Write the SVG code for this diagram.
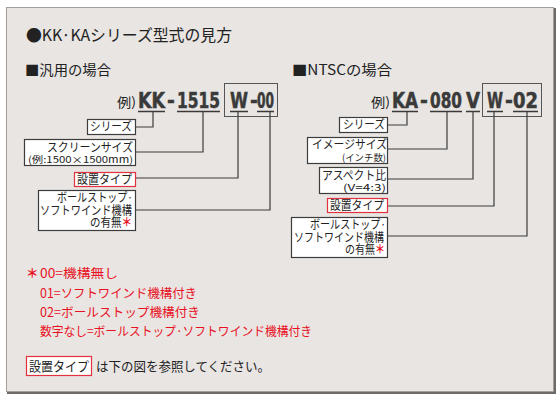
<svg xmlns="http://www.w3.org/2000/svg" width="560" height="400" viewBox="0 0 560 400">
<defs>
<style>
.jp{font-family:"Noto Sans CJK JP","Noto Sans",sans-serif;fill:#222;}
.bx{fill:#fff;stroke:#3c3c3c;stroke-width:1.2;}
.rbx{fill:#fff;stroke:#e3323f;stroke-width:1.2;}
.md{font-family:"DejaVu Sans Condensed","DejaVu Sans",sans-serif;font-weight:bold;font-stretch:condensed;font-size:21px;fill:#3a3a3a;stroke:#3a3a3a;stroke-width:0.5;}
.ul{stroke:#3a3a3a;stroke-width:1.6;fill:none;}
.cn{stroke:#3c3c3c;stroke-width:1.2;fill:none;}
.red{fill:#e8111f;}
.t12{font-size:12px;}
.t10{font-size:9.5px;}
</style>
</defs>
<rect x="0" y="0" width="560" height="400" fill="#fff"/>
<rect x="6.5" y="7.5" width="547" height="384" fill="#e8e5e2" stroke="#a39e9a" stroke-width="1"/>
<path d="M555,8 V393 H7" fill="none" stroke="#6f6a67" stroke-width="2"/>

<g id="title">
<text class="jp" x="26" y="41" font-size="16" textLength="206" lengthAdjust="spacingAndGlyphs">●KK·KAシリーズ型式の見方</text>
<text class="jp" x="25" y="75" font-size="14" textLength="86" lengthAdjust="spacingAndGlyphs">■汎用の場合</text>
<text class="jp" x="292" y="75" font-size="14" textLength="100" lengthAdjust="spacingAndGlyphs">■NTSCの場合</text>
</g>

<g id="model-left">
<text class="jp" x="117" y="107" font-size="13" textLength="19" lengthAdjust="spacingAndGlyphs" fill="#333">例)</text>
<text class="md" y="108"><tspan x="138" textLength="27" lengthAdjust="spacingAndGlyphs">KK</tspan><tspan x="167">-</tspan><tspan x="177" textLength="43" lengthAdjust="spacingAndGlyphs">1515</tspan><tspan x="230" textLength="18" lengthAdjust="spacingAndGlyphs">W</tspan><tspan x="250">-</tspan><tspan x="257" textLength="17" lengthAdjust="spacingAndGlyphs">00</tspan></text>
<path class="ul" d="M138,111.5 H165 M177,111.5 H220 M230,111.5 H248 M257,111.5 H274"/>
<rect x="224.5" y="83.5" width="53" height="33" fill="none" stroke="#555" stroke-width="1"/>
</g>

<g id="model-right">
<text class="jp" x="371" y="107" font-size="13" textLength="19" lengthAdjust="spacingAndGlyphs" fill="#333">例)</text>
<text class="md" y="108"><tspan x="392" textLength="26" lengthAdjust="spacingAndGlyphs">KA</tspan><tspan x="420">-</tspan><tspan x="430" textLength="32" lengthAdjust="spacingAndGlyphs">080</tspan><tspan x="466" textLength="14" lengthAdjust="spacingAndGlyphs">V</tspan><tspan x="487" textLength="16" lengthAdjust="spacingAndGlyphs">W</tspan><tspan x="505">-</tspan><tspan x="513" textLength="25" lengthAdjust="spacingAndGlyphs">02</tspan></text>
<path class="ul" d="M392,111.5 H418 M430,111.5 H462 M466,111.5 H480 M487,111.5 H503 M513,111.5 H538"/>
<rect x="482.5" y="83.5" width="59" height="33" fill="none" stroke="#555" stroke-width="1"/>
</g>

<g id="connectors">
<path class="cn" d="M153,112 V127 H136"/>
<path class="cn" d="M203,112 V152 H136"/>
<path class="cn" d="M238,112 V178 H136"/>
<path class="cn" d="M270,112 V210 H136"/>
<path class="cn" d="M407,112 V125 H388"/>
<path class="cn" d="M447,112 V149 H388"/>
<path class="cn" d="M473,112 V179 H388"/>
<path class="cn" d="M494,112 V206 H388"/>
<path class="cn" d="M527,112 V236 H388"/>
</g>

<g id="l-series">
<rect class="bx" x="87.5" y="119.5" width="48" height="15"/>
<text class="jp t12" x="90" y="131" textLength="42" lengthAdjust="spacingAndGlyphs">シリーズ</text>
</g>
<g id="l-screen">
<rect class="bx" x="24.5" y="139.5" width="111" height="26"/>
<text class="jp t12" x="47" y="151.5" textLength="86" lengthAdjust="spacingAndGlyphs">スクリーンサイズ</text>
<text class="jp t10" x="28" y="162.5" textLength="105" lengthAdjust="spacingAndGlyphs">(例:1500×1500mm)</text>
</g>
<g id="l-type">
<rect class="rbx" x="74.5" y="172.5" width="61" height="14"/>
<text class="jp t12" x="77" y="183.5" textLength="55" lengthAdjust="spacingAndGlyphs">設置タイプ</text>
</g>
<g id="l-stop">
<rect class="bx" x="38.5" y="190.5" width="97" height="40"/>
<text class="jp t12" x="57" y="202" textLength="76" lengthAdjust="spacingAndGlyphs">ボールストップ·</text>
<text class="jp t12" x="40" y="214.5" textLength="92" lengthAdjust="spacingAndGlyphs">ソフトワインド機構</text>
<text class="jp t12" x="90" y="227" textLength="42" lengthAdjust="spacingAndGlyphs">の有無<tspan class="red" font-weight="bold">＊</tspan></text>
</g>

<g id="r-series">
<rect class="bx" x="339.5" y="117.5" width="48" height="15"/>
<text class="jp t12" x="343" y="129" textLength="42" lengthAdjust="spacingAndGlyphs">シリーズ</text>
</g>
<g id="r-image">
<rect class="bx" x="307.5" y="137.5" width="80" height="26"/>
<text class="jp t12" x="312" y="149" textLength="75" lengthAdjust="spacingAndGlyphs">イメージサイズ</text>
<text class="jp t10" x="342" y="160.5" textLength="44" lengthAdjust="spacingAndGlyphs">(インチ数)</text>
</g>
<g id="r-aspect">
<rect class="bx" x="319.5" y="167.5" width="68" height="26"/>
<text class="jp t12" x="322" y="179.5" textLength="64" lengthAdjust="spacingAndGlyphs">アスペクト比</text>
<text class="jp t10" x="343" y="190.5" textLength="43" lengthAdjust="spacingAndGlyphs">(V=4:3)</text>
</g>
<g id="r-type">
<rect class="rbx" x="327.5" y="198.5" width="60" height="14"/>
<text class="jp t12" x="330" y="209.5" textLength="54" lengthAdjust="spacingAndGlyphs">設置タイプ</text>
</g>
<g id="r-stop">
<rect class="bx" x="291.5" y="217.5" width="96" height="40"/>
<text class="jp t12" x="310" y="229" textLength="76" lengthAdjust="spacingAndGlyphs">ボールストップ·</text>
<text class="jp t12" x="294" y="241.5" textLength="90" lengthAdjust="spacingAndGlyphs">ソフトワインド機構</text>
<text class="jp t12" x="345" y="254" textLength="40" lengthAdjust="spacingAndGlyphs">の有無<tspan class="red" font-weight="bold">＊</tspan></text>
</g>

<g id="notes">
<text class="jp red" x="26" y="278" font-size="12.5"><tspan font-weight="bold">＊</tspan><tspan x="40" textLength="78" lengthAdjust="spacingAndGlyphs">00=機構無し</tspan></text>
<text class="jp red" x="40" y="297.5" font-size="12.5" textLength="157" lengthAdjust="spacingAndGlyphs">01=ソフトワインド機構付き</text>
<text class="jp red" x="40" y="316.5" font-size="12.5" textLength="160" lengthAdjust="spacingAndGlyphs">02=ボールストップ機構付き</text>
<text class="jp red" x="40" y="335.5" font-size="12.5" textLength="272" lengthAdjust="spacingAndGlyphs">数字なし=ボールストップ·ソフトワインド機構付き</text>
</g>

<g id="footer">
<rect class="rbx" x="26.5" y="356.5" width="65" height="19"/>
<text class="jp" x="29" y="370.5" font-size="13" textLength="60" lengthAdjust="spacingAndGlyphs">設置タイプ</text>
<text class="jp" x="96" y="370.5" font-size="13" textLength="174" lengthAdjust="spacingAndGlyphs">は下の図を参照してください。</text>
</g>
</svg>
